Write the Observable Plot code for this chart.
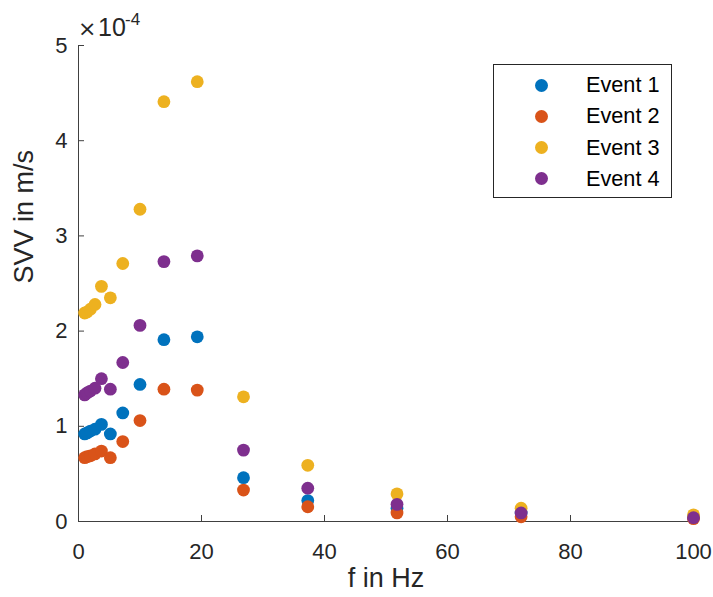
<!DOCTYPE html>
<html>
<head>
<meta charset="utf-8">
<script src="https://cdn.jsdelivr.net/npm/d3@7"></script>
<script src="https://cdn.jsdelivr.net/npm/@observablehq/plot@0.6"></script>
<style>
  body { margin: 0; background: #fff; }
  #wrap { position: relative; width: 713px; height: 597px; font-family: "Liberation Sans", Arial, sans-serif; }
  #legend { position: absolute; left: 493px; top: 64px; width: 179px; height: 134px; box-sizing: border-box;
            border: 1px solid #262626; background: #fff; }
  .row { position: absolute; left: 0; height: 30px; width: 100%; }
  .sw { position: absolute; left: 41px; width: 13px; height: 13px; border-radius: 50%; top: 8.5px; }
  .lab { position: absolute; left: 92px; top: 0; line-height: 30px; font-size: 21.7px; color: #000; white-space: nowrap; }
  .exp { position: absolute; color: #262626; white-space: nowrap; line-height: 1; }
</style>
</head>
<body>
<div id="wrap"></div>
<script>
// Frequencies in Hz
const freqs = [1, 1.389, 1.931, 2.683, 3.728, 5.179, 7.197, 10, 13.89, 19.31, 26.83, 37.28, 51.79, 71.97, 100];
// SVV values in units of 1e-4 m/s
const event1 = [0.92, 0.93, 0.95, 0.97, 1.02, 0.92, 1.14, 1.44, 1.91, 1.94, 0.46, 0.22, 0.14, 0.09, 0.05];
const event2 = [0.67, 0.68, 0.69, 0.71, 0.74, 0.67, 0.84, 1.06, 1.39, 1.38, 0.33, 0.155, 0.09, 0.05, 0.03];
const event3 = [2.19, 2.20, 2.23, 2.28, 2.47, 2.35, 2.71, 3.28, 4.41, 4.62, 1.31, 0.59, 0.29, 0.14, 0.07];
const event4 = [1.33, 1.35, 1.37, 1.40, 1.50, 1.39, 1.67, 2.06, 2.73, 2.79, 0.75, 0.35, 0.18, 0.09, 0.04];
const seriesNames = ["Event 1", "Event 2", "Event 3", "Event 4"];
const seriesColors = ["#0072BD", "#D95319", "#EDB120", "#7E2F8E"];
const xTicks = [0, 20, 40, 60, 80, 100];
const yTicks = [0, 1, 2, 3, 4, 5];

const allSeries = [event1, event2, event3, event4];
const data = allSeries.flatMap((vals, i) => vals.map((v, j) => ({f: freqs[j], v, s: seriesNames[i]})));

const axisColor = "#404040";
const W = 713, H = 597, mL = 78, mR = 20, mT = 45, mB = 76;

const chart = Plot.plot({
  width: W, height: H,
  marginLeft: mL, marginRight: mR, marginTop: mT, marginBottom: mB,
  style: { fontFamily: "Liberation Sans, Arial, sans-serif", background: "#fff", color: "#262626" },
  x: { domain: [0, 100], ticks: xTicks, tickSize: 0, tickPadding: 22, label: null, tickFormat: d => String(d) },
  y: { domain: [0, 5], ticks: yTicks, tickSize: 0, tickPadding: 11, label: null, tickFormat: d => String(d) },
  color: { domain: seriesNames, range: seriesColors },
  marks: [
    Plot.axisX({ ticks: xTicks, tickSize: 0, tickPadding: 22, fontSize: 22, label: null, tickFormat: d => String(d) }),
    Plot.axisY({ ticks: yTicks, tickSize: 0, tickPadding: 11, fontSize: 22, label: null, tickFormat: d => String(d) }),
    Plot.tickX(xTicks, { x: d => d, stroke: axisColor, insetTop: (H - mT - mB) - 6 }),
    Plot.tickY(yTicks, { y: d => d, stroke: axisColor, insetRight: (W - mL - mR) - 6 }),
    Plot.ruleX([0], { stroke: axisColor }),
    Plot.ruleY([0], { stroke: axisColor }),
    Plot.dot(data, { x: "f", y: "v", fill: "s", r: 6.4, stroke: "none" }),
    Plot.text(["f in Hz"], { frameAnchor: "bottom", dy: 65, fontSize: 27, fill: "#262626" }),
    Plot.text(["SVV in m/s"], { frameAnchor: "left", dx: -54, rotate: -90, fontSize: 27, fill: "#262626" })
  ]
});

const wrap = document.getElementById("wrap");
wrap.appendChild(chart);

// exponent label
function addExp(txt, left, top, size, family) {
  const e = document.createElement("div");
  e.className = "exp";
  e.style.left = left + "px"; e.style.top = top + "px"; e.style.fontSize = size + "px";
  if (family) e.style.fontFamily = family;
  e.textContent = txt;
  wrap.appendChild(e);
}
addExp("×", 78, 18, 22, "DejaVu Sans");
addExp("10", 98, 15, 25);
addExp("-4", 125, 11, 17);

// legend
const legend = document.createElement("div");
legend.id = "legend";
seriesNames.forEach((name, i) => {
  const row = document.createElement("div");
  row.className = "row";
  row.style.top = (5 + i * 31.3) + "px";
  const sw = document.createElement("div");
  sw.className = "sw";
  sw.style.background = seriesColors[i];
  const lab = document.createElement("div");
  lab.className = "lab";
  lab.textContent = name;
  row.appendChild(sw); row.appendChild(lab);
  legend.appendChild(row);
});
wrap.appendChild(legend);
</script>
</body>
</html>
